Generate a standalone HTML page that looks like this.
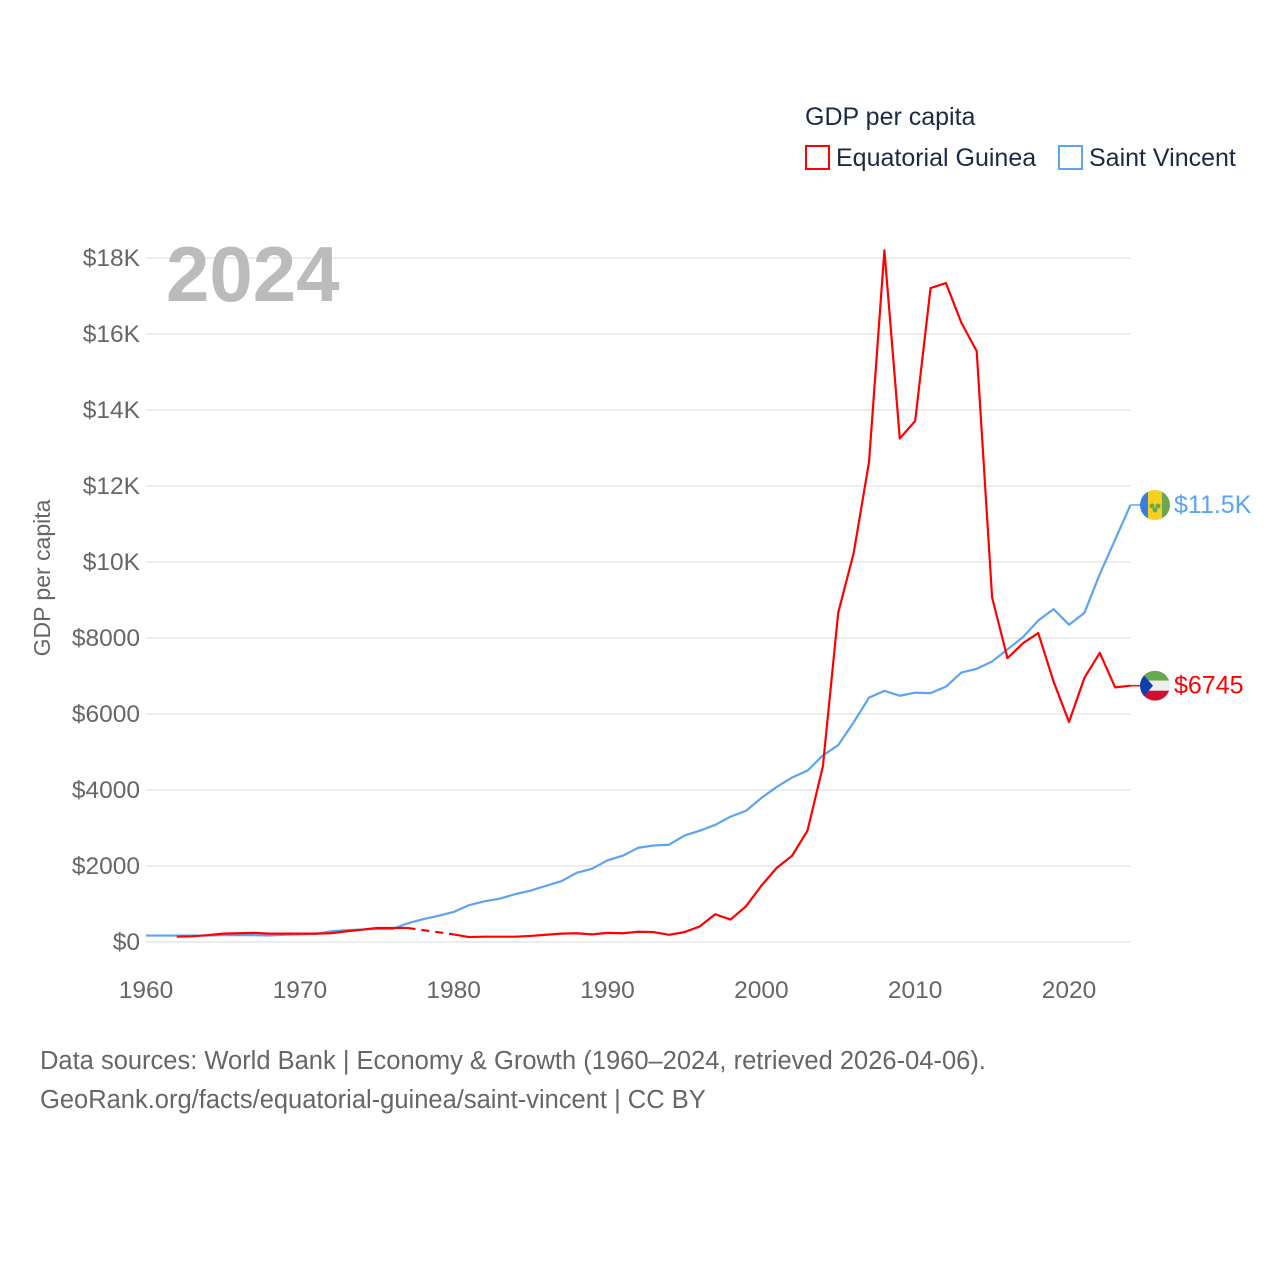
<!DOCTYPE html>
<html><head><meta charset="utf-8"><style>
body{margin:0;background:#fff;font-family:"Liberation Sans",sans-serif;}
svg text{font-family:"Liberation Sans",sans-serif;}
</style></head><body>
<svg width="1280" height="1280" viewBox="0 0 1280 1280">
<g id="grid"></g>
<g id="yt"></g>
<g id="xt"></g>
<text x="166" y="301" font-size="78" font-weight="bold" fill="#bbb">2024</text>
<text transform="translate(50,578) rotate(-90)" text-anchor="middle" font-size="23" fill="#666">GDP per capita</text>
<g id="lines"></g>
<g>
<text x="805" y="125" font-size="25" fill="#1a2a44">GDP per capita</text>
<g><rect x="806" y="146" width="23" height="23" fill="none" stroke="#f00" stroke-width="2"/><text x="836" y="166" font-size="25" fill="#1a2a44">Equatorial Guinea</text></g>
<g><rect x="1059" y="146" width="23" height="23" fill="none" stroke="#5ba4ee" stroke-width="2"/><text x="1089" y="166" font-size="25" fill="#1a2a44">Saint Vincent</text></g>
</g>
<g id="ends"></g>
<text x="40" y="1069" font-size="25.5" fill="#666">Data sources: World Bank | Economy &amp; Growth (1960–2024, retrieved 2026-04-06).</text>
<text x="40" y="1108" font-size="25.5" fill="#666">GeoRank.org/facts/equatorial-guinea/saint-vincent | CC BY</text>
</svg>
<script>
const yTicks=[0,2000,4000,6000,8000,10000,12000,14000,16000,18000];
const yTickLabels=["$0","$2000","$4000","$6000","$8000","$10K","$12K","$14K","$16K","$18K"];
const xTicks=[1960,1970,1980,1990,2000,2010,2020];
const eqYears=[1962,1963,1964,1965,1966,1967,1968,1969,1970,1971,1972,1973,1974,1975,1976,1977,1980,1981,1982,1983,1984,1985,1986,1987,1988,1989,1990,1991,1992,1993,1994,1995,1996,1997,1998,1999,2000,2001,2002,2003,2004,2005,2006,2007,2008,2009,2010,2011,2012,2013,2014,2015,2016,2017,2018,2019,2020,2021,2022,2023,2024];
const eqValues=[140,150,180,220,230,240,220,220,220,220,230,280,320,370,370,370,200,130,140,140,140,160,190,220,230,200,240,230,270,260,190,260,410,730,590,940,1480,1950,2270,2930,4620,8670,10230,12630,18200,13250,13710,17210,17340,16300,15550,9070,7470,7860,8130,6850,5790,6950,7610,6700,6745];
const svYears=[];for(let y=1960;y<=2024;y++)svYears.push(y);
const svValues=[170,170,170,170,170,180,180,180,170,190,200,210,280,310,330,340,340,490,600,690,790,970,1070,1140,1260,1350,1480,1600,1820,1930,2150,2270,2480,2540,2560,2800,2930,3080,3300,3450,3790,4080,4330,4510,4910,5180,5780,6430,6610,6480,6560,6550,6720,7090,7190,7380,7700,8020,8460,8760,8350,8660,9680,10590,11500];
const NS="http://www.w3.org/2000/svg";
const X=y=>146+(y-1960)*(1069-146)/60;
const Y=v=>942-v*(942-258)/18000;
function mk(t,a,p){const e=document.createElementNS(NS,t);for(const k in a)e.setAttribute(k,a[k]);p.appendChild(e);return e;}
const grid=document.getElementById('grid'),yt=document.getElementById('yt'),xt=document.getElementById('xt');
yTicks.forEach((v,i)=>{
 const l=mk('line',{x1:146,x2:1130,y1:Y(v),y2:Y(v),stroke:'#e6e6e6','stroke-width':1.5},grid);
 
 
 const t=mk('text',{x:140,y:Y(v)+8,'text-anchor':'end','font-size':24.5,fill:'#666'},yt);
 t.textContent=yTickLabels[i];
 
 
});
xTicks.forEach(v=>{
 const t=mk('text',{x:X(v),y:998,'text-anchor':'middle','font-size':24.5,fill:'#666'},xt);
 t.textContent=v;
 
 
});
const lines=document.getElementById('lines');
function series(ys,vs,col,name){
 let d='';
 for(let i=0;i<ys.length;i++){
  const gap=i>0&&ys[i]-ys[i-1]>1;
  if(gap){
   const p=mk('line',{x1:X(ys[i-1]),y1:Y(vs[i-1]),x2:X(ys[i]),y2:Y(vs[i]),stroke:col,'stroke-width':2.2,'stroke-dasharray':'8,6'},lines);
   
   
   d+='M'+X(ys[i])+','+Y(vs[i]);
  } else d+=(i?'L':'M')+X(ys[i])+','+Y(vs[i]);
 }
 const p=mk('path',{d:d,fill:'none',stroke:col,'stroke-width':2.2,'stroke-linejoin':'round'},lines);
 
 
}
series(svYears,svValues,'#5ba4ee','saint-vincent');
series(eqYears,eqValues,'#ff0000','equatorial-guinea');
const ends=document.getElementById('ends');
function endLabel(v,col,txt,name,flag){
 const y=Y(v),x0=X(2024);
 mk('line',{x1:x0,y1:y,x2:1141,y2:y,stroke:col,'stroke-width':1.5},ends);
 const g=mk('g',{},ends);
 
 
 flag(g,1155,y);
 const t=mk('text',{x:1174,y:y+8,'font-size':25,fill:col},ends);
 t.textContent=txt;
 
 
}
endLabel(svValues[svValues.length-1],'#5ba4ee','$11.5K','saint-vincent',(g,cx,cy)=>{
 const cp=mk('clipPath',{id:'c1'},g);mk('circle',{cx:cx,cy:cy,r:15},cp);
 mk('rect',{x:cx-15,y:cy-15,width:8,height:30,fill:'#3a7de0','clip-path':'url(#c1)'},g);
 mk('rect',{x:cx-7,y:cy-15,width:14,height:30,fill:'#f5d020','clip-path':'url(#c1)'},g);
 mk('rect',{x:cx+7,y:cy-15,width:8,height:30,fill:'#6aa84f','clip-path':'url(#c1)'},g);
 mk('circle',{cx:cx-3,cy:cy+1,r:2.5,fill:'#6aa84f'},g);mk('circle',{cx:cx+3,cy:cy+1,r:2.5,fill:'#6aa84f'},g);mk('circle',{cx:cx,cy:cy+5,r:2.5,fill:'#6aa84f'},g);
});
endLabel(eqValues[eqValues.length-1],'#ff0000','$6745','equatorial-guinea',(g,cx,cy)=>{
 const cp=mk('clipPath',{id:'c2'},g);mk('circle',{cx:cx,cy:cy,r:15},cp);
 mk('rect',{x:cx-15,y:cy-15,width:30,height:10,fill:'#6aa84f','clip-path':'url(#c2)'},g);
 mk('rect',{x:cx-15,y:cy-5,width:30,height:10,fill:'#eee','clip-path':'url(#c2)'},g);
 mk('rect',{x:cx-15,y:cy+5,width:30,height:10,fill:'#d01030','clip-path':'url(#c2)'},g);
 mk('polygon',{points:(cx-15)+','+(cy-15)+' '+(cx-2)+','+cy+' '+(cx-15)+','+(cy+15),fill:'#1040b0','clip-path':'url(#c2)'},g);
});
</script>
</body></html>
